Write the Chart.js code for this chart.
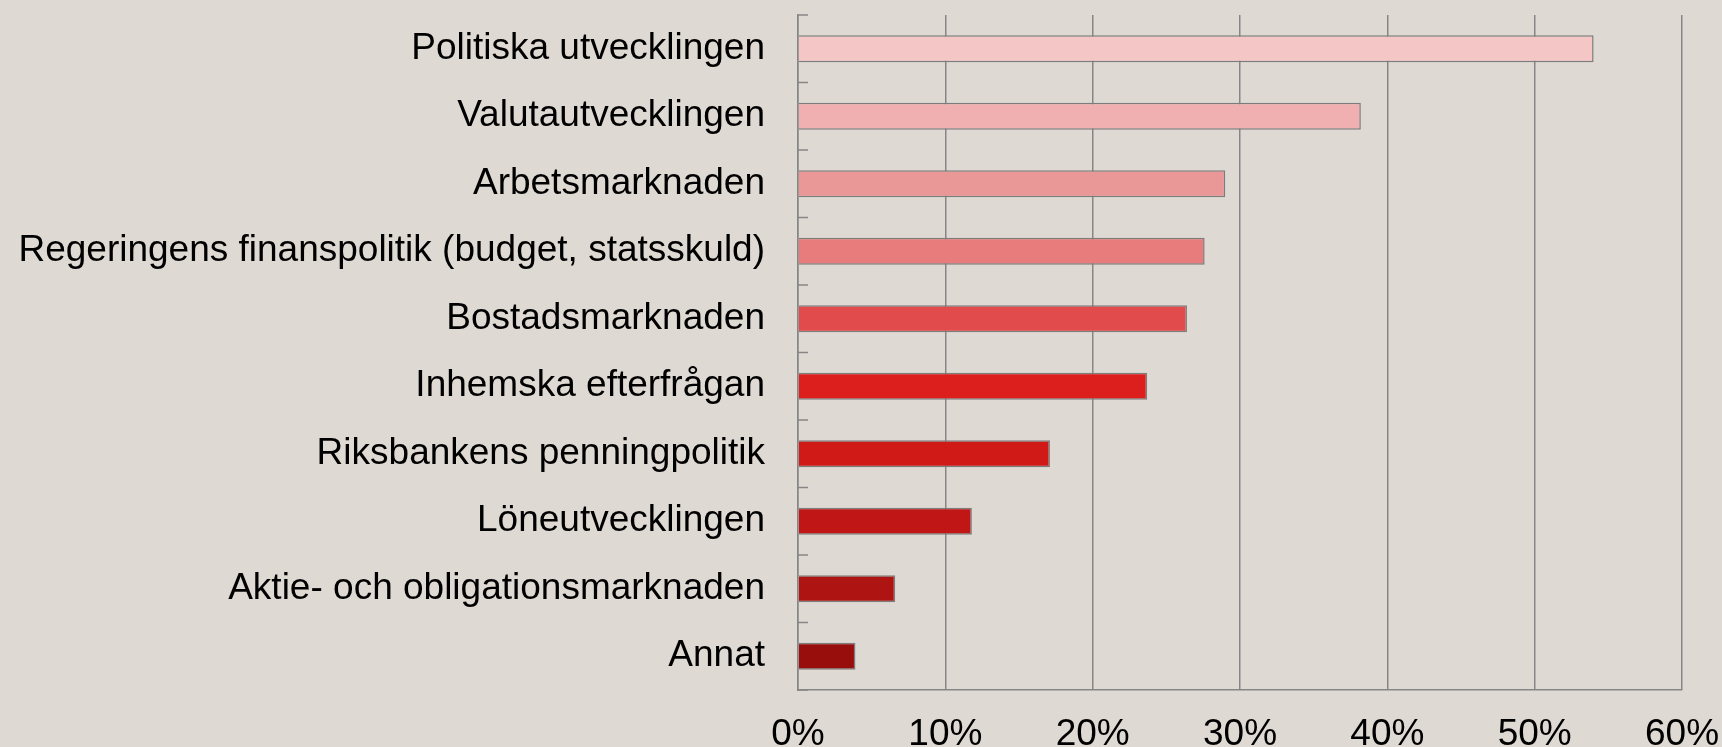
<!DOCTYPE html>
<html>
<head>
<meta charset="utf-8">
<script src="https://cdn.jsdelivr.net/npm/chart.js@4/dist/chart.umd.min.js"></script>
<style>
    html, body { margin: 0; padding: 0; background: #dfd9d3; }
    #wrap { width: 1722px; height: 747px; }
</style>
</head>
<body>
<div id="wrap"><canvas id="chart"></canvas></div>
<script>
const categories = [
    "Politiska utvecklingen",
    "Valutautvecklingen",
    "Arbetsmarknaden",
    "Regeringens finanspolitik (budget, statsskuld)",
    "Bostadsmarknaden",
    "Inhemska efterfrågan",
    "Riksbankens penningpolitik",
    "Löneutvecklingen",
    "Aktie- och obligationsmarknaden",
    "Annat",
];
const values = [54.0, 38.2, 29.0, 27.6, 26.4, 23.7, 17.1, 11.8, 6.6, 3.9];
const barColors = [
    "#f4c6c6", "#f0b0b1", "#ea9797", "#e87b7b", "#e24b4c",
    "#dc1e1c", "#d01a18", "#c01616", "#ad1412", "#980e0c",
];
const xTicks = [0, 10, 20, 30, 40, 50, 60];

const gridGray = "#868686";

// small ticks on the inside of the y axis, at category boundaries
const innerTicks = {
    id: "innerTicks",
    afterDatasetsDraw(chart) {
        const y = chart.scales.y;
        const c = chart.ctx;
        const step = (y.bottom - y.top) / categories.length;
        c.save();
        c.strokeStyle = gridGray;
        c.lineWidth = 1.5;
        c.beginPath();
        for (let i = 0; i <= categories.length; i++) {
            const py = y.getPixelForValue(i) - step / 2;
            c.moveTo(y.right, py);
            c.lineTo(y.right + 10, py);
        }
        c.stroke();
        c.restore();
    },
};

const ctx = document.getElementById("chart").getContext("2d");
new Chart(ctx, {
    type: "bar",
    data: {
        labels: categories,
        datasets: [{
            data: values,
            backgroundColor: barColors,
            borderColor: "#7c7c7c",
            borderWidth: 1.5,
            barPercentage: 0.4,
            categoryPercentage: 1,
        }],
    },
    options: {
        indexAxis: "y",
        responsive: true,
        maintainAspectRatio: false,
        animation: false,
        layout: { padding: { top: 15, right: 40, left: 0, bottom: 0 } },
        scales: {
            x: {
                min: 0,
                max: 60,
                afterBuildTicks: (s) => { s.ticks = xTicks.map(v => ({ value: v })); },
                afterFit: (s) => {
                    s.height = 57;
                    s.paddingLeft = 0;
                    s.paddingRight = 0;
                },
                grid: { color: gridGray, lineWidth: 1.5, drawTicks: false },
                border: { color: gridGray, width: 1.5 },
                ticks: {
                    color: "#000",
                    padding: 23,
                    font: { family: "Liberation Sans", size: 37 },
                    callback: (v) => v + "%",
                },
            },
            y: {
                afterFit: (s) => {
                    s.width = 798;
                    s.paddingTop = 0;
                    s.paddingBottom = 0;
                },
                grid: { display: false, drawTicks: false },
                border: { color: gridGray, width: 1.5 },
                ticks: {
                    color: "#000",
                    padding: 33,
                    font: { family: "Liberation Sans", size: 37 },
                },
            },
        },
        plugins: {
            legend: { display: false },
            tooltip: { enabled: false },
        },
    },
    plugins: [innerTicks],
});
</script>
</body>
</html>
